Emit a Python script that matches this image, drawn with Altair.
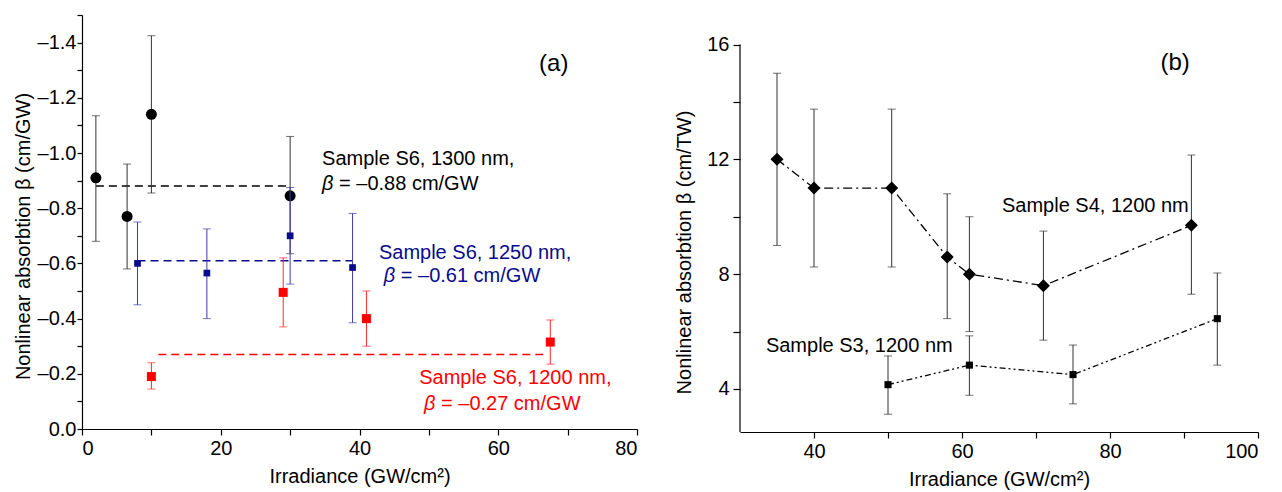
import altair as alt
import pandas as pd

FONT = "Liberation Sans"

# ---------------- Panel (a) data ----------------
a1300_x = [2.0, 6.5, 10.0, 30.0]
a1300_y = [-0.91, -0.77, -1.14, -0.845]
a1300_lo = [-0.68, -0.58, -0.855, -0.635]
a1300_hi = [-1.135, -0.96, -1.425, -1.06]

a1250_x = [8.0, 18.0, 30.0, 39.0]
a1250_y = [-0.60, -0.565, -0.70, -0.585]
a1250_lo = [-0.45, -0.40, -0.525, -0.385]
a1250_hi = [-0.75, -0.725, -0.875, -0.781]

a1200_x = [10.0, 29.0, 41.0, 67.5]
a1200_y = [-0.19, -0.495, -0.40, -0.315]
a1200_lo = [-0.145, -0.37, -0.30, -0.235]
a1200_hi = [-0.24, -0.62, -0.50, -0.395]

# mean beta lines: [x_start, x_end], level
fit1300_x = [2.0, 30.0]
fit1300_y = -0.88
fit1250_x = [8.0, 39.0]
fit1250_y = -0.61
fit1200_x = [11.0, 66.5]
fit1200_y = -0.27

a_xdomain = [0, 80]
a_ydomain = [0, -1.5]
a_xticks = [0, 10, 20, 30, 40, 50, 60, 70, 80]
a_yticks = [0, -0.1, -0.2, -0.3, -0.4, -0.5, -0.6, -0.7, -0.8, -0.9, -1.0,
            -1.1, -1.2, -1.3, -1.4, -1.5]

# annotations panel (a)
a_lbl_text = ["Sample S6, 1300 nm,", "Sample S6, 1250 nm,", "Sample S6, 1200 nm,"]
a_lbl_x = [34.6, 42.8, 48.6]
a_lbl_y = [-0.98, -0.636, -0.184]
a_beta_rest = ["= \u20130.88 cm/GW", "= \u20130.61 cm/GW", "= \u20130.27 cm/GW"]
a_beta_x = [34.6, 43.5, 49.3]
a_beta_y = [-0.886, -0.553, -0.09]
a_colors = ["#000000", "#0a0a8c", "#ff0000"]

# ---------------- Panel (b) data ----------------
s4_x = [35.0, 40.0, 50.5, 58.0, 61.0, 71.0, 91.0]
s4_y = [12.0, 11.0, 11.0, 8.6, 8.0, 7.6, 9.7]
s4_lo = [9.0, 8.25, 8.25, 6.45, 6.0, 5.7, 7.3]
s4_hi = [15.0, 13.75, 13.75, 10.8, 10.0, 9.5, 12.15]

s3_x = [50.0, 61.0, 75.0, 94.5]
s3_y = [4.15, 4.83, 4.5, 6.45]
s3_lo = [3.12, 3.78, 3.48, 4.83]
s3_hi = [5.15, 5.85, 5.53, 8.04]

b_xdomain = [30, 100]
b_ydomain = [2.5, 17.03]
b_yaxis_span = [2.5, 16]
b_xticks = [40, 50, 60, 70, 80, 90, 100]
b_yticks = [4, 6, 8, 10, 12, 14, 16]

b_lbl_text = ["Sample S4, 1200 nm", "Sample S3, 1200 nm"]
b_lbl_x = [65.4, 33.5]
b_lbl_y = [10.37, 5.5]

XT = "Irradiance (GW/cm\u00b2)"
FS_TXT = 20


def axis_common(**kw):
    base = dict(grid=False, domainColor="black", tickColor="black", labelColor="black",
                titleColor="black", labelFont=FONT, titleFont=FONT, labelFontSize=20,
                titleFontSize=20, titleFontWeight="normal", domainWidth=1.2, tickWidth=1.2)
    base.update(kw)
    return alt.Axis(**base)


# ---------- panel (a) ----------
ax_x = alt.Scale(domain=a_xdomain, nice=False, zero=False)
ax_y = alt.Scale(domain=a_ydomain, nice=False, zero=False)
AXa_x = axis_common(values=a_xticks, title=XT, tickSize=6, labelPadding=3, titlePadding=8,
                    labelExpr="datum.value % 20 == 0 ? datum.label : ''")
AXa_y = axis_common(values=a_yticks, title="Nonlinear absorbtion \u03b2 (cm/GW)", tickSize=5,
                    labelPadding=1, titlePadding=4, titleY=221,
                    labelExpr="round(abs(datum.value)*10) % 2 == 0 ? (datum.value == 0 ? '0.0' : '\u2013' + format(abs(datum.value), '.1f')) : ''")


def XA(f):
    return alt.X(f, scale=ax_x, axis=AXa_x)


def YA(f):
    return alt.Y(f, scale=ax_y, axis=AXa_y)


def series_a(xs, ys, lo, hi, color, ecolor, shape, size):
    df = pd.DataFrame({"x": xs, "y": ys, "lo": lo, "hi": hi})
    base = alt.Chart(df)
    rule = base.mark_rule(color=ecolor, strokeWidth=1).encode(x=XA("x:Q"), y=YA("lo:Q"), y2="hi:Q")
    cap1 = base.mark_tick(color=ecolor, orient="horizontal", size=8, thickness=1).encode(
        x=XA("x:Q"), y=YA("lo:Q"))
    cap2 = base.mark_tick(color=ecolor, orient="horizontal", size=8, thickness=1).encode(
        x=XA("x:Q"), y=YA("hi:Q"))
    pts = base.mark_point(filled=True, shape=shape, size=size, color=color, opacity=1).encode(
        x=XA("x:Q"), y=YA("y:Q"))
    return [rule, cap1, cap2, pts]


def fitline(xr, level, color):
    df = pd.DataFrame({"x": [xr[0]], "x2": [xr[1]], "y": [level]})
    return alt.Chart(df).mark_rule(color=color, strokeWidth=1.5, strokeDash=[8, 5]).encode(
        x=XA("x:Q"), x2="x2:Q", y=YA("y:Q"))


layers_a = []
layers_a.append(fitline(fit1300_x, fit1300_y, "#000000"))
layers_a.append(fitline(fit1250_x, fit1250_y, "#0a0a8c"))
layers_a.append(fitline(fit1200_x, fit1200_y, "#ff0000"))
layers_a += series_a(a1300_x, a1300_y, a1300_lo, a1300_hi, "#000000", "#333333", "circle", 121)
layers_a += series_a(a1250_x, a1250_y, a1250_lo, a1250_hi, "#0a0a8c", "#3c3ca8", "square", 45)
layers_a += series_a(a1200_x, a1200_y, a1200_lo, a1200_hi, "#ff0000", "#ff2a2a", "square", 81)

lbl_a = pd.DataFrame({"t": a_lbl_text, "x": a_lbl_x, "y": a_lbl_y, "c": a_colors})
beta_a = pd.DataFrame({"t": a_beta_rest, "x": a_beta_x, "y": a_beta_y, "c": a_colors})
layers_a.append(alt.Chart(lbl_a).mark_text(align="left", baseline="middle", font=FONT, fontSize=FS_TXT).encode(
    x=XA("x:Q"), y=YA("y:Q"), text="t:N", color=alt.Color("c:N", scale=None)))
layers_a.append(alt.Chart(beta_a).mark_text(align="left", baseline="middle", font=FONT, fontSize=FS_TXT,
                                            fontStyle="italic", text="\u03b2").encode(
    x=XA("x:Q"), y=YA("y:Q"), color=alt.Color("c:N", scale=None)))
layers_a.append(alt.Chart(beta_a).mark_text(align="left", baseline="middle", font=FONT, fontSize=FS_TXT, dx=17).encode(
    x=XA("x:Q"), y=YA("y:Q"), text="t:N", color=alt.Color("c:N", scale=None)))
panel_a_tag = pd.DataFrame({"t": ["(a)"], "x": [68.0], "y": [-1.324]})
layers_a.append(alt.Chart(panel_a_tag).mark_text(align="center", baseline="middle", font=FONT, fontSize=24).encode(
    x=XA("x:Q"), y=YA("y:Q"), text="t:N"))

chart_a = alt.layer(*layers_a).properties(width=555, height=414)

# ---------- panel (b) ----------
bx = alt.Scale(domain=b_xdomain, nice=False, zero=False)
by = alt.Scale(domain=b_ydomain, nice=False, zero=False)
AXb_x = axis_common(values=b_xticks, title=XT, tickSize=6, labelPadding=3, titlePadding=8,
                    labelExpr="datum.value % 20 == 0 ? datum.label : ''")
AXb_y = axis_common(values=b_yticks, title="Nonlinear absorbtion \u03b2 (cm/TW)", tickSize=7,
                    labelPadding=4, titlePadding=12, domain=False, titleY=237,
                    labelExpr="datum.value % 4 == 0 ? datum.label : ''")


def XB(f):
    return alt.X(f, scale=bx, axis=AXb_x)


def YB(f):
    return alt.Y(f, scale=by, axis=AXb_y)


def series_b(xs, ys, lo, hi, shape, size, dash):
    df = pd.DataFrame({"x": xs, "y": ys, "lo": lo, "hi": hi})
    base = alt.Chart(df)
    line = base.mark_line(color="black", strokeWidth=1.3, strokeDash=dash).encode(
        x=XB("x:Q"), y=YB("y:Q"))
    rule = base.mark_rule(color="#333333", strokeWidth=1).encode(x=XB("x:Q"), y=YB("lo:Q"), y2="hi:Q")
    cap1 = base.mark_tick(color="#333333", orient="horizontal", size=8, thickness=1).encode(
        x=XB("x:Q"), y=YB("lo:Q"))
    cap2 = base.mark_tick(color="#333333", orient="horizontal", size=8, thickness=1).encode(
        x=XB("x:Q"), y=YB("hi:Q"))
    pts = base.mark_point(filled=True, shape=shape, size=size, color="black", opacity=1).encode(
        x=XB("x:Q"), y=YB("y:Q"))
    return [line, rule, cap1, cap2, pts]


layers_b = []
layers_b += series_b(s4_x, s4_y, s4_lo, s4_hi, "diamond", 169, [9, 4, 2, 4])
layers_b += series_b(s3_x, s3_y, s3_lo, s3_hi, "square", 50, [6, 3, 2, 3, 2, 3])

yaxis_df = pd.DataFrame({"x": [b_xdomain[0]], "y": [b_yaxis_span[0]], "y2": [b_yaxis_span[1]]})
layers_b.append(alt.Chart(yaxis_df).mark_rule(color="black", strokeWidth=1.2).encode(
    x=XB("x:Q"), y=YB("y:Q"), y2="y2:Q"))

lbl_b = pd.DataFrame({"t": b_lbl_text, "x": b_lbl_x, "y": b_lbl_y})
layers_b.append(alt.Chart(lbl_b).mark_text(align="left", baseline="middle", font=FONT, fontSize=FS_TXT).encode(
    x=XB("x:Q"), y=YB("y:Q"), text="t:N"))
panel_b_tag = pd.DataFrame({"t": ["(b)"], "x": [88.8], "y": [15.36]})
layers_b.append(alt.Chart(panel_b_tag).mark_text(align="center", baseline="middle", font=FONT, fontSize=24).encode(
    x=XB("x:Q"), y=YB("y:Q"), text="t:N"))

chart_b = alt.layer(*layers_b).properties(width=518, height=417)

chart = alt.hconcat(chart_a, chart_b, spacing=36).properties(
    padding={"left": 5, "top": 6, "right": 5, "bottom": 5},
    background="white",
).configure_view(stroke=None)

chart.save("out.html", embed_options={"renderer": "svg", "actions": False})
